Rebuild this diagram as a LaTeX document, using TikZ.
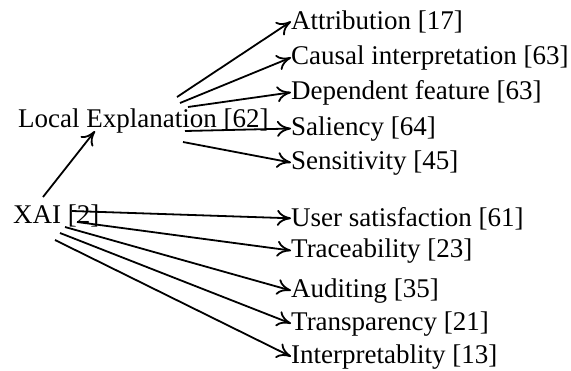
\documentclass[tikz,border=0pt]{standalone}
\usepackage{fontspec}
\setmainfont{Liberation Serif}
\usetikzlibrary{arrows.meta}

\begin{document}
\begin{tikzpicture}[x=1pt,y=-1pt,
  term/.style={anchor=base west,inner sep=0pt,font=\fontsize{27}{30}\selectfont},
  conn/.style={line width=1.8pt,-{To[length=14pt,width=16pt]}}]

\useasboundingbox (0,0) rectangle (571,370);

% Draw the nodes
\node[term] (xai) at (13,223) {XAI [2]};
\node[term] (loc) at (18,127) {Local Explanation [62]};

\node[term] (attr) at (291,29) {Attribution [17]};
\node[term] (causal) at (291,64) {Causal interpretation [63]};
\node[term] (dep) at (291,99) {Dependent feature [63]};
\node[term] (sal) at (291,135) {Saliency [64]};
\node[term] (sens) at (291,169) {Sensitivity [45]};

\node[term] (user) at (291,226) {User satisfaction [61]};
\node[term] (trace) at (291,257) {Traceability [23]};
\node[term] (audit) at (291,297) {Auditing [35]};
\node[term] (transp) at (291,330) {Transparency [21]};
\node[term] (interp) at (291,363) {Interpretablity [13]};

% Draw the edges
\draw[conn] ([xshift=30pt,yshift=26pt]xai.base west) -- ([xshift=77pt,yshift=-4pt]loc.base west);

\draw[conn] ([xshift=159pt,yshift=30pt]loc.base west) -- (attr.west);
\draw[conn] ([xshift=162pt,yshift=24pt]loc.base west) -- (causal.west);
\draw[conn] ([xshift=170pt,yshift=20pt]loc.base west) -- (dep.west);
\draw[conn] ([xshift=167pt,yshift=-4pt]loc.base west) -- (sal.west);
\draw[conn] ([xshift=165pt,yshift=-15pt]loc.base west) -- (sens.west);

\draw[conn] ([xshift=59pt,yshift=12pt]xai.base west) -- (user.west);
\draw[conn] ([xshift=64pt,yshift=1pt]xai.base west) -- (trace.west);
\draw[conn] ([xshift=52pt,yshift=-4pt]xai.base west) -- (audit.west);
\draw[conn] ([xshift=47pt,yshift=-10pt]xai.base west) -- (transp.west);
\draw[conn] ([xshift=42pt,yshift=-17pt]xai.base west) -- (interp.west);

\end{tikzpicture}
\end{document}
